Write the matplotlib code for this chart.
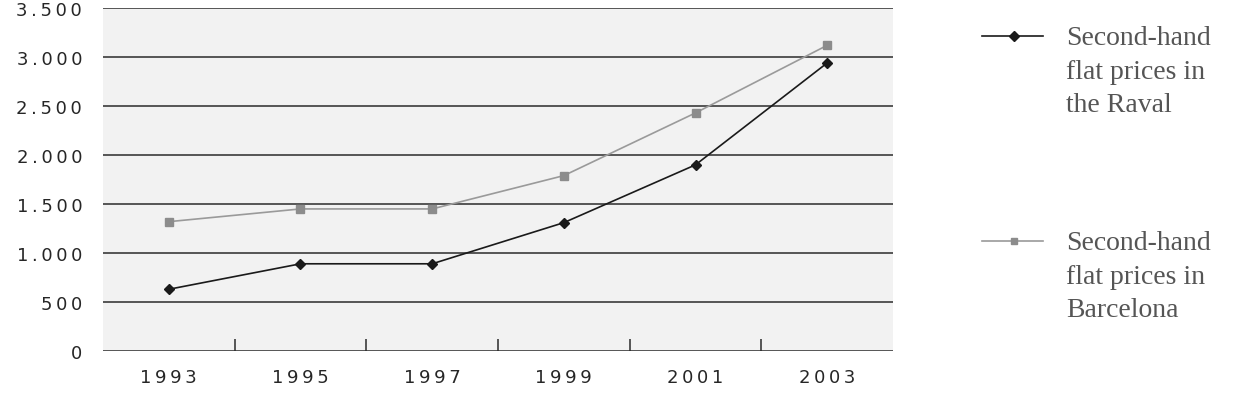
import matplotlib
matplotlib.use("Agg")
import matplotlib.pyplot as plt
from matplotlib.ticker import FixedLocator, FuncFormatter

# data
years = ["1993", "1995", "1997", "1999", "2001", "2003"]
raval = [630, 890, 890, 1310, 1900, 2940]
barcelona = [1320, 1450, 1450, 1790, 2430, 3120]
y_ticks = [0, 500, 1000, 1500, 2000, 2500, 3000, 3500]
label_raval = "Second-hand\nflat prices in\nthe Raval"
label_bcn = "Second-hand\nflat prices in\nBarcelona"

SP = "\u2009"  # thin space for the letter-spaced tick labels


def spaced(s):
    return SP.join(s)


def fmt_thousands(v, pos=None):
    s = f"{int(v):,}".replace(",", ".")
    return spaced(s)


fig = plt.figure(figsize=(12.56, 4.02), dpi=100)
ax = fig.add_axes([0.082, 0.1244, 0.629, 0.853])
ax.set_facecolor("#f2f2f2")

x = list(range(len(years)))
ax.plot(x, barcelona, color="#9a9a9a", lw=1.2, marker="s", ms=5.5,
        mfc="#8c8c8c", mec="#8c8c8c", zorder=3)
ax.plot(x, raval, color="#1a1a1a", lw=1.2, marker="D", ms=5.5,
        mfc="#1a1a1a", mec="#1a1a1a", zorder=4)

ax.set_xlim(-0.5, len(years) - 0.5)
ax.set_ylim(0, 3500)

ax.yaxis.set_major_locator(FixedLocator(y_ticks))
ax.yaxis.set_major_formatter(FuncFormatter(fmt_thousands))
ax.grid(axis="y", color="#2b2b2b", lw=1.1, zorder=1)
ax.set_axisbelow(True)

ax.set_xticks(x)
ax.set_xticklabels([spaced(y) for y in years])
ax.set_xticks([i + 0.5 for i in x[:-1]], minor=True)

for s in ax.spines.values():
    s.set_visible(False)

ax.tick_params(axis="y", length=0, pad=15, labelsize=13, labelcolor="#262626")
ax.tick_params(axis="x", which="major", length=0, pad=12, labelsize=13,
               labelcolor="#262626")
ax.tick_params(axis="x", which="minor", direction="in", length=9, width=1.1,
               color="#2b2b2b")

# legend on the right, handle aligned with the first text line
leg = fig.add_axes([0, 0, 1, 1], facecolor="none")
leg.set_xlim(0, 1256)
leg.set_ylim(402, 0)
leg.axis("off")
for y0, lab, col, mk, mcol in [(37, label_raval, "#1a1a1a", "D", "#1a1a1a"),
                               (242, label_bcn, "#9a9a9a", "s", "#8c8c8c")]:
    leg.plot([982, 1043], [y0, y0], color=col, lw=1.2)
    leg.plot([1014], [y0], marker=mk, ms=5, color=mcol)
    leg.text(1066, y0 - 11, lab, ha="left", va="top", fontsize=20,
             family="Liberation Serif", color="#555555", linespacing=1.45)

fig.savefig("out.png", dpi=100)
